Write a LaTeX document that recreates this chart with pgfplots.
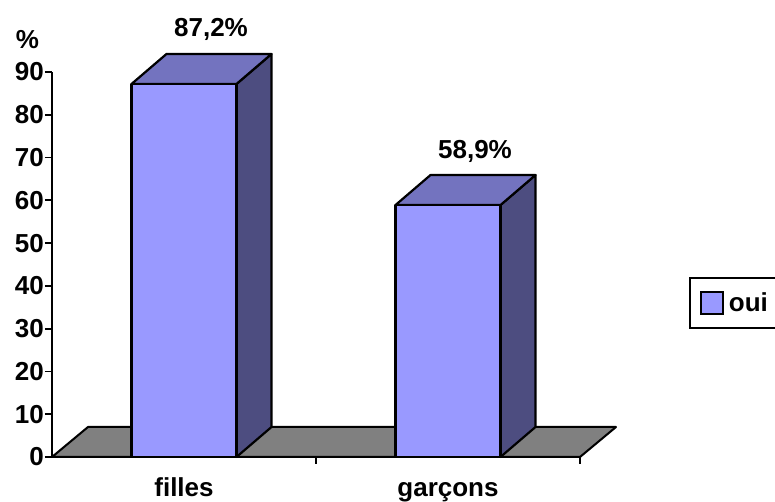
\documentclass[border=0pt]{standalone}
\usepackage{fontspec}
\setmainfont{Liberation Sans}
\usepackage{pgfplots}
\usepackage{pgfplotstable}
\pgfplotsset{compat=1.18}
\definecolor{barfront}{HTML}{9999FF}
\definecolor{bartop}{HTML}{7373BF}
\definecolor{barside}{HTML}{4D4D80}
\definecolor{floorgray}{HTML}{808080}

% share of "oui" answers, in %
\pgfplotstableread{
x v
0.5 87.2
1.5 58.9
}\ouitable

% 3D bar drawn from the top front centre; \val is the bar's value
% (385pt of axis height for 90 units -> 4.277778pt per unit)
\pgfdeclareplotmark{box3d}{%
  \pgfmathsetmacro\h{\val*4.277778}%
  \pgfsetlinewidth{2.2pt}\pgfsetroundjoin
  \pgfsetstrokecolor{black}%
  \pgfsetfillcolor{barside}%
  \pgfpathmoveto{\pgfpoint{52.5pt}{-\h pt}}%
  \pgfpathlineto{\pgfpoint{52.5pt}{0pt}}%
  \pgfpathlineto{\pgfpoint{87.5pt}{30pt}}%
  \pgfpathlineto{\pgfpoint{87.5pt}{30pt-\h pt}}%
  \pgfpathclose
  \pgfusepath{fill,stroke}%
  \pgfsetfillcolor{bartop}%
  \pgfpathmoveto{\pgfpoint{-52.5pt}{0pt}}%
  \pgfpathlineto{\pgfpoint{52.5pt}{0pt}}%
  \pgfpathlineto{\pgfpoint{87.5pt}{30pt}}%
  \pgfpathlineto{\pgfpoint{-17.5pt}{30pt}}%
  \pgfpathclose
  \pgfusepath{fill,stroke}%
  \pgfsetfillcolor{barfront}%
  \pgfpathrectanglecorners{\pgfpoint{-52.5pt}{-\h pt}}{\pgfpoint{52.5pt}{0pt}}%
  \pgfusepath{fill,stroke}%
}

\begin{document}
\begin{tikzpicture}[font=\fontsize{26}{31}\selectfont\bfseries]
\useasboundingbox (-52pt,-45pt) rectangle (723pt,457pt);
\begin{axis}[
    scale only axis, width=528pt, height=385pt,
    xmin=0, xmax=2, ymin=0, ymax=90,
    clip=false,
    axis x line=bottom, axis y line=left,
    axis line style={-, black, line width=1.8pt},
    tick align=outside, major tick length=7pt,
    tick style={black, line width=1.8pt},
    ytick={0,10,...,90},
    yticklabel style={inner xsep=1pt},
    /pgf/number format/assume math mode=true,
    xtick={1,2}, xticklabels={},
    extra x ticks={0.5,1.5},
    extra x tick labels={filles,garçons},
    extra x tick style={major tick length=0pt,
        xticklabel style={anchor=base, yshift=-40pt}},
    legend style={at={(1.2064,0.4675)}, anchor=north west, draw=black,
        line width=2pt, inner xsep=10pt, inner ysep=13pt},
    legend cell align=left,
]
\fill[floorgray, draw=black, line width=2pt, line join=round]
    (axis cs:0,0) -- ([shift={(36pt,30pt)}]axis cs:0,0)
    -- ([shift={(36pt,30pt)}]axis cs:2,0) -- (axis cs:2,0) -- cycle;

\addplot[only marks, mark=box3d, point meta=y,
    visualization depends on={\thisrow{v}\as\val},
    nodes near coords={\pgfmathprintnumber[fixed,precision=1,use comma]{\pgfplotspointmeta}\%},
    nodes near coords style={text=black, anchor=base, xshift=27pt, yshift=47pt,
        font=\fontsize{26}{31}\selectfont\bfseries},
    legend image code/.code={
        \filldraw[fill=barfront, draw=black, line width=1.8pt] (0pt,-11pt) rectangle (22pt,11pt);
        \path (25pt,0pt);
    },
] table[x=x, y=v] {\ouitable};
\addlegendentry{oui}
\end{axis}
\node at (-24.5pt,417.5pt) {\%};
\end{tikzpicture}
\end{document}
